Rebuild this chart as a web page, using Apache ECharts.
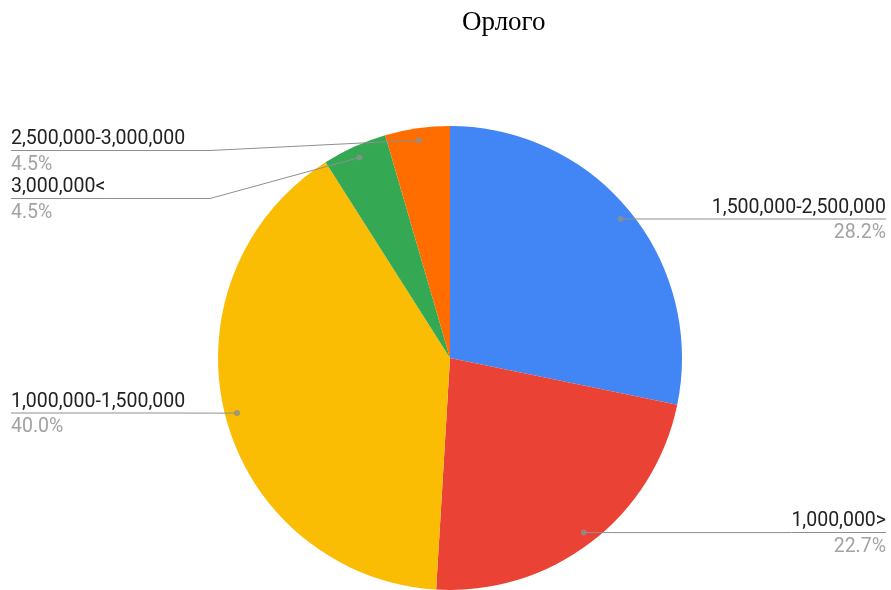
<!DOCTYPE html>
<html>
<head>
<meta charset="utf-8">
<title>Орлого</title>
<script src="https://cdn.jsdelivr.net/npm/echarts@6/dist/echarts.min.js"></script>
<style>
  html, body { margin: 0; padding: 0; background: #fff; }
  #chart { width: 891px; height: 590px; }
</style>
</head>
<body>
<div id="chart"></div>
<script>
// Income brackets, clockwise from 12 o'clock
const categories = [
  '1,500,000-2,500,000',
  '1,000,000>',
  '1,000,000-1,500,000',
  '3,000,000<',
  '2,500,000-3,000,000'
];
// Share of respondents in each bracket, percent
const shares = [28.2, 22.7, 40.0, 4.5, 4.5];
const sliceColors = ['#4285F4', '#EA4335', '#FBBC04', '#34A853', '#FF6D01'];
const chartTitle = 'Орлого';

const CX = 450, CY = 358, R = 232, R_DOT = 220;
const BOX_TOP = 128, BOX_LEFT = 6;
const LINE_GREY = '#8f8f8f';

const pieData = categories.map((name, i) => ({
  name: name,
  value: shares[i],
  itemStyle: { color: sliceColors[i] }
}));

// Dots that sit at the inner end of each leader line (polar: [radius, cumulative value])
const total = shares.reduce((a, b) => a + b, 0);
let acc = 0;
const dotData = shares.map(v => {
  const mid = acc + v / 2;
  acc += v;
  return [1, mid];
});

const chart = echarts.init(document.getElementById('chart'), null, { renderer: 'canvas' });

chart.setOption({
  animation: false,
  backgroundColor: '#ffffff',
  title: {
    text: chartTitle,
    left: 457,
    top: 4,
    textStyle: {
      fontFamily: '"Liberation Serif", "Times New Roman", serif',
      fontSize: 27,
      fontWeight: 'normal',
      color: '#000'
    }
  },
  polar: { center: [CX, CY], radius: R_DOT },
  angleAxis: {
    type: 'value', min: 0, max: total, startAngle: 90, clockwise: true,
    show: false, splitLine: { show: false }
  },
  radiusAxis: { type: 'value', min: 0, max: 1, show: false, splitLine: { show: false } },
  series: [
    {
      name: 'slices',
      type: 'pie',
      left: BOX_LEFT, right: 0, top: BOX_TOP, bottom: 0,
      center: [CX - BOX_LEFT, CY - BOX_TOP],
      radius: R,
      startAngle: 90,
      clockwise: true,
      silent: true,
      label: { show: false },
      labelLine: { show: false },
      itemStyle: { borderWidth: 0 },
      data: pieData,
      z: 1
    },
    {
      name: 'labels',
      type: 'pie',
      left: BOX_LEFT, right: 0, top: BOX_TOP, bottom: 0,
      center: [CX - BOX_LEFT, CY - BOX_TOP],
      radius: R_DOT,
      startAngle: 90,
      clockwise: true,
      silent: true,
      itemStyle: { color: 'rgba(0,0,0,0)', borderWidth: 0 },
      data: categories.map((name, i) => ({ name: name, value: shares[i] })),
      label: {
        show: true,
        position: 'outer',
        alignTo: 'edge',
        edgeDistance: 5,
        distanceToLabelLine: 0,
        formatter: p => '{name|' + p.name + '}\n{rule| }\n{pct|' + p.value.toFixed(1) + '%}',
        rich: {
          name: {
            fontFamily: 'Roboto', fontSize: 19.5, color: '#222222',
            lineHeight: 23.5, height: 21, verticalAlign: 'bottom'
          },
          rule: { width: '100%', height: 1, lineHeight: 1, fontSize: 1, backgroundColor: LINE_GREY },
          pct: {
            fontFamily: 'Roboto', fontSize: 19.5, color: '#a3a3a3',
            lineHeight: 23.5, height: 19, verticalAlign: 'bottom'
          }
        }
      },
      labelLine: {
        show: true,
        length: 0,
        length2: 10,
        smooth: false,
        lineStyle: { color: LINE_GREY, width: 1 }
      },
      labelLayout: function (params) {
        const pts = params.labelLinePoints;
        if (!pts || pts.length < 3) return {};
        // Lines pushed off their slice bend just outside the pie rim
        if (Math.abs(pts[0][1] - pts[2][1]) > 1) {
          const left = pts[2][0] < CX;
          const bendX = left ? CX - R - 8 : CX + R + 8;
          return { labelLinePoints: [pts[0], [bendX, pts[2][1]], pts[2]] };
        }
        return {};
      },
      z: 2
    },
    {
      name: 'dots',
      type: 'scatter',
      coordinateSystem: 'polar',
      symbol: 'circle',
      symbolSize: 6,
      silent: true,
      itemStyle: { color: LINE_GREY },
      data: dotData,
      z: 3
    }
  ]
});
</script>
</body>
</html>
